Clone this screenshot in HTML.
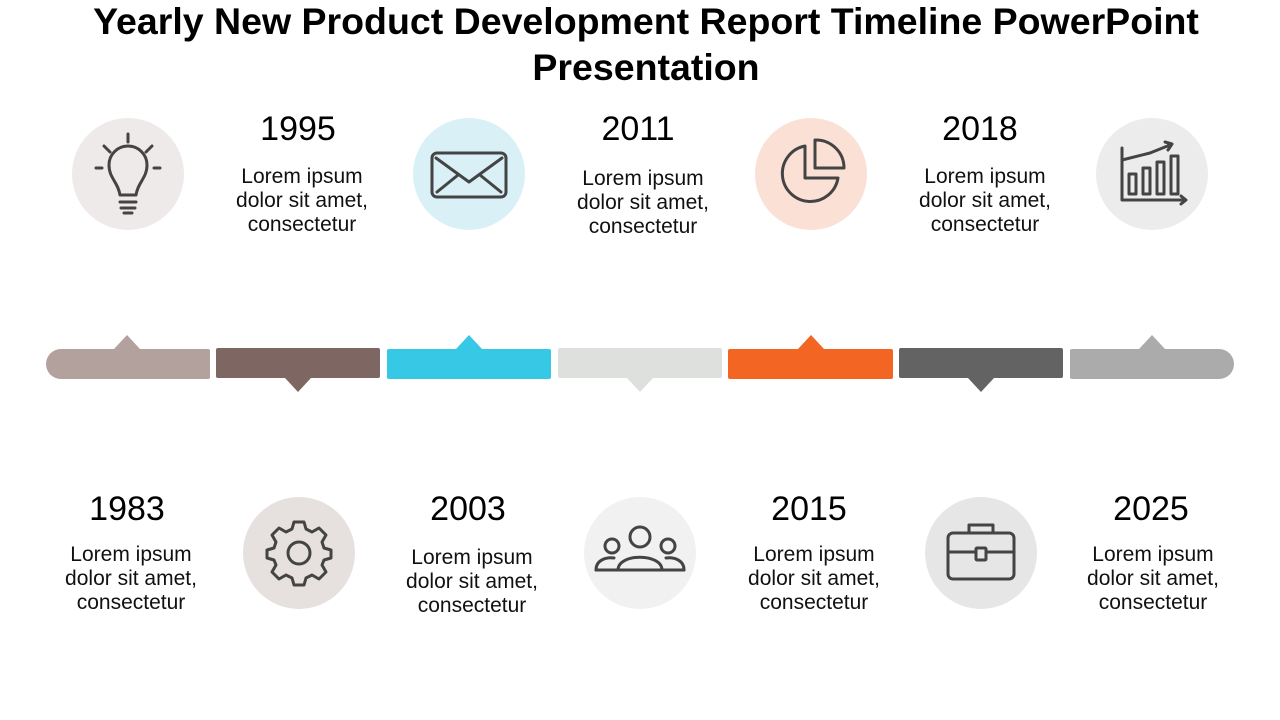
<!DOCTYPE html>
<html><head><meta charset="utf-8"><style>
html,body{margin:0;padding:0;background:#fff;}
svg{display:block;}
</style></head><body>
<svg width="1280" height="720" viewBox="0 0 1280 720" xmlns="http://www.w3.org/2000/svg" font-family="Liberation Sans, sans-serif">
<text x="646" y="34" text-anchor="middle" font-size="37.5" font-weight="bold" fill="#000">Yearly New Product Development Report Timeline PowerPoint</text>
<text x="646" y="80" text-anchor="middle" font-size="37.5" font-weight="bold" fill="#000">Presentation</text>

<path d="M61 349 H208 a2 2 0 0 1 2 2 V377 a2 2 0 0 1 -2 2 H61 a15 15 0 0 1 0 -30 Z" fill="#b3a19e"/>
<polygon points="114,349 127,335 140,349" fill="#b3a19e"/>
<rect x="216" y="348" width="164" height="30" rx="2" fill="#7e6762"/>
<polygon points="285,378 298,392 311,378" fill="#7e6762"/>
<rect x="387" y="349" width="164" height="30" rx="2" fill="#37c8e6"/>
<polygon points="456,349 469,335 482,349" fill="#37c8e6"/>
<rect x="558" y="348" width="164" height="30" rx="2" fill="#dde0dc"/>
<polygon points="627,378 640,392 653,378" fill="#dde0dc"/>
<rect x="728" y="349" width="165" height="30" rx="2" fill="#f26522"/>
<polygon points="798,349 811,335 824,349" fill="#f26522"/>
<rect x="899" y="348" width="164" height="30" rx="2" fill="#636363"/>
<polygon points="968,378 981,392 994,378" fill="#636363"/>
<path d="M1072 349 H1219 a15 15 0 0 1 0 30 H1072 a2 2 0 0 1 -2 -2 V351 a2 2 0 0 1 2 -2 Z" fill="#ababab"/>
<polygon points="1139,349 1152,335 1165,349" fill="#ababab"/>

<circle cx="128" cy="174" r="56" fill="#eeeae9"/>
<circle cx="469" cy="174" r="56" fill="#d9f1f6"/>
<circle cx="811" cy="174" r="56" fill="#fbe0d5"/>
<circle cx="1152" cy="174" r="56" fill="#ececec"/>
<circle cx="299" cy="553" r="56" fill="#e6e0df"/>
<circle cx="640" cy="553" r="56" fill="#f1f1f1"/>
<circle cx="981" cy="553" r="56" fill="#e6e6e6"/>

<g fill="none" stroke="#444" stroke-width="3" stroke-linecap="round" stroke-linejoin="round">
<path d="M120 195 C118 182 109 178 109 165 A19 19 0 0 1 147 165 C147 178 138 182 136 195 Z"/>
<path d="M120 202 H136 M121 208 H135 M124 213 H132"/>
<path d="M128 134 V142 M104 146 L110 152 M152 146 L146 152 M96 168 H102 M154 168 H160"/>
<rect x="432" y="153" width="74" height="44" rx="5"/>
<path d="M436 158 L469 182 L502 158 M437 192 L458 175 M501 192 L480 175"/>
<path d="M805 146 A28 28 0 1 0 838 178 H805 Z"/>
<path d="M815 140 A28 28 0 0 1 844 168 H815 Z"/>
<path d="M1122 148 V200 H1185 M1181 196 L1186 200 L1181 204"/>
<rect x="1129" y="174" width="7" height="20"/><rect x="1143" y="168" width="7" height="26"/><rect x="1157" y="162" width="7" height="32"/><rect x="1171" y="156" width="7" height="38"/>
<path d="M1122 160 L1150 153 L1170 145 M1165 142 L1172 144 L1168 150"/>
<circle cx="299" cy="553" r="11"/>
<path d="M294 527 H304 L306 534 L312 537 L319 533 L326 540 L322 547 L324 553 L331 555 V563 L324 565 L322 570 L326 577 L319 584 L312 580 L306 583 L304 590 H294 L292 583 L286 580 L279 584 L272 577 L276 570 L274 565 L267 563 V555 L274 553 L276 547 L272 540 L279 533 L286 537 L292 534 Z" transform="translate(0,-5)"/>
<circle cx="640" cy="537" r="10"/><path d="M618 570 C618 553 662 553 662 570 Z"/>
<circle cx="612" cy="546" r="7"/><path d="M596 570 C596 560 606 557 614 558"/>
<circle cx="668" cy="546" r="7"/><path d="M684 570 C684 560 674 557 666 558"/>
<path d="M596 570 H618 M662 570 H684"/>
<rect x="948" y="533" width="66" height="46" rx="5"/>
<path d="M969 533 V525 H993 V533 M948 552 H976 M986 552 H1014"/>
<rect x="976" y="548" width="10" height="12" rx="1"/>
</g>

<g fill="#000" text-anchor="middle">
<g font-size="34">
<text x="298" y="140">1995</text>
<text x="638" y="140">2011</text>
<text x="980" y="140">2018</text>
<text x="127" y="520">1983</text>
<text x="468" y="520">2003</text>
<text x="809" y="520">2015</text>
<text x="1151" y="520">2025</text>
</g>
<g font-size="21" fill="#111">
<text x="302" y="183">Lorem ipsum</text><text x="302" y="207">dolor sit amet,</text><text x="302" y="231">consectetur</text>
<text x="643" y="185">Lorem ipsum</text><text x="643" y="209">dolor sit amet,</text><text x="643" y="233">consectetur</text>
<text x="985" y="183">Lorem ipsum</text><text x="985" y="207">dolor sit amet,</text><text x="985" y="231">consectetur</text>
<text x="131" y="561">Lorem ipsum</text><text x="131" y="585">dolor sit amet,</text><text x="131" y="609">consectetur</text>
<text x="472" y="564">Lorem ipsum</text><text x="472" y="588">dolor sit amet,</text><text x="472" y="612">consectetur</text>
<text x="814" y="561">Lorem ipsum</text><text x="814" y="585">dolor sit amet,</text><text x="814" y="609">consectetur</text>
<text x="1153" y="561">Lorem ipsum</text><text x="1153" y="585">dolor sit amet,</text><text x="1153" y="609">consectetur</text>
</g>
</g>
</svg>
</body></html>
